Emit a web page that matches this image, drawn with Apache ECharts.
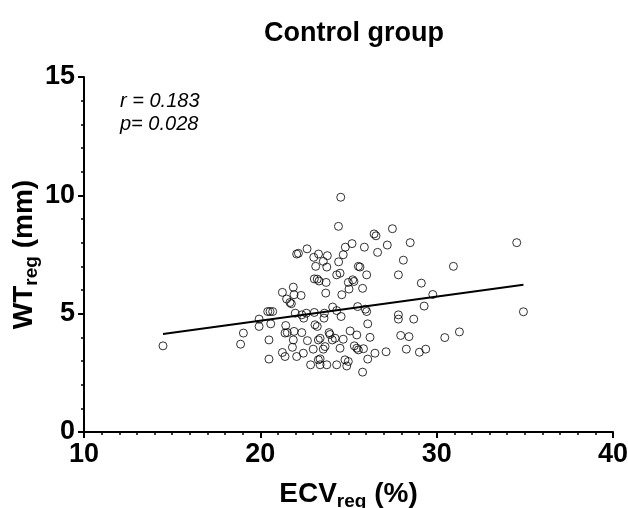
<!DOCTYPE html>
<html>
<head>
<meta charset="utf-8">
<style>html,body{margin:0;padding:0;background:#fff}#chart{width:628px;height:508px}</style>
<script src="https://cdn.jsdelivr.net/npm/echarts@6/dist/echarts.min.js"></script>
</head>
<body>
<div id="chart"></div>
<script>
// ECV_reg (%) values of each subject
const ecvValues = [
  24.56, 24.43, 26.45, 26.56, 27.49, 25.2, 24.82, 25.9, 27.2, 26.65,
  24.7, 22.65, 22.06, 22.16, 23.3, 23.8, 23.03, 23.57, 24.44, 23.14,
  23.77, 25.56, 25.65, 28.5, 28.11, 30.95, 34.54, 23.06, 23.23, 23.33,
  23.73, 24.33, 24.52, 25.24, 25.31, 24.99, 25.03, 24.62, 25.8, 26.03,
  23.71, 21.87, 21.25, 21.91, 22.31, 21.49, 21.68, 21.76, 20.42, 20.55,
  20.7, 19.93, 21.98, 22.35, 22.46, 22.61, 23.06, 23.63, 24.1, 24.33,
  24.58, 25.52, 25.96, 26.03, 19.04, 18.88, 19.93, 20.59, 21.44, 21.4,
  21.53, 21.91, 22.35, 21.87, 20.49, 23.1, 23.23, 23.61, 23.9, 23.95,
  22.67, 23.29, 23.39, 21.82, 23.0, 23.57, 23.67, 24.08, 24.24, 24.7,
  25.09, 25.47, 26.22, 26.09, 25.33, 25.47, 25.56, 25.85, 26.5, 27.13,
  26.09, 21.25, 21.4, 20.49, 22.06, 22.44, 23.29, 23.39, 22.85, 23.39,
  23.77, 24.33, 24.8, 24.99, 24.9, 25.8, 24.52, 27.83, 29.13, 29.78,
  29.29, 27.83, 27.83, 28.7, 27.96, 28.43, 30.46, 31.29, 34.92, 28.28,
  29.02, 29.38, 14.48
];
// WT_reg (mm) values of each subject
const wtValues = [
  9.92, 8.69, 8.37, 8.29, 8.59, 7.96, 7.81, 7.81, 7.9, 7.59,
  7.49, 7.74, 7.52, 7.55, 7.52, 7.45, 7.38, 7.21, 7.19, 7.0,
  6.97, 7.0, 6.97, 8.0, 7.26, 7.0, 8.0, 6.47, 6.46, 6.38,
  6.32, 6.64, 6.71, 6.43, 6.36, 6.32, 6.04, 5.8, 6.07, 6.64,
  5.87, 6.12, 5.9, 5.8, 5.77, 5.62, 5.47, 5.42, 5.09, 5.09,
  5.09, 4.77, 5.02, 4.95, 4.81, 5.02, 5.05, 5.02, 5.28, 5.13,
  4.88, 5.3, 5.19, 5.09, 4.18, 3.71, 4.46, 4.57, 4.5, 4.18,
  4.2, 4.25, 4.2, 3.89, 3.89, 4.53, 4.46, 4.81, 4.2, 4.12,
  3.86, 3.89, 3.96, 3.58, 3.5, 3.5, 3.61, 3.89, 3.96, 3.92,
  4.27, 4.1, 4.0, 4.57, 3.64, 3.54, 3.47, 3.52, 3.33, 3.39,
  3.08, 3.36, 3.19, 3.08, 3.19, 3.33, 3.05, 3.09, 2.84, 2.84,
  2.84, 2.84, 3.05, 2.98, 2.79, 2.53, 3.54, 6.64, 6.29, 5.81,
  5.32, 4.95, 4.77, 4.77, 4.08, 4.03, 3.99, 4.23, 5.08, 3.5,
  3.37, 3.5, 3.64
];
// regression line end points
const fitX = [14.48, 34.92];
const fitY = [4.14, 6.22];
// tick labels
const xTicks = [10, 20, 30, 40];
const yTicks = [0, 5, 10, 15];
const titleText = 'Control group';
const statText = ['r = 0.183', 'p= 0.028'];

const FONT = "'Liberation Sans', Arial, Helvetica, sans-serif";
const scatterData = ecvValues.map((x, i) => [x, wtValues[i]]);
const fitData = fitX.map((x, i) => [x, fitY[i]]);

const chart = echarts.init(document.getElementById('chart'), null, {renderer: 'canvas'});
const axisCommon = {
  axisLine: {show: true, onZero: false, lineStyle: {color: '#000', width: 2}},
  axisTick: {show: true, inside: false, length: 6, lineStyle: {color: '#000', width: 2}},
  minorTick: {show: true, length: 3, lineStyle: {color: '#000', width: 1.5}},
  splitLine: {show: false},
  minorSplitLine: {show: false},
  axisLabel: {color: '#000', fontSize: 27, fontWeight: 'bold', fontFamily: FONT}
};
const nameRich = {
  a: {fontSize: 28, fontWeight: 'bold', fontFamily: FONT, color: '#000', lineHeight: 30},
  s: {fontSize: 19, fontWeight: 'bold', fontFamily: FONT, color: '#000', lineHeight: 30, padding: [16, 0, 0, 0]}
};
chart.setOption({
  animation: false,
  backgroundColor: '#fff',
  title: {
    text: titleText, left: 349, top: 15, textAlign: 'center',
    textStyle: {fontSize: 27, fontWeight: 'bold', fontFamily: FONT, color: '#000'}
  },
  grid: {left: 84, right: 15, top: 77, bottom: 76, containLabel: false, outerBoundsMode: 'none'},
  xAxis: Object.assign({}, axisCommon, {
    type: 'value', min: xTicks[0], max: xTicks[xTicks.length - 1], interval: 10,
    minorTick: Object.assign({}, axisCommon.minorTick, {splitNumber: 10}),
    axisLabel: Object.assign({}, axisCommon.axisLabel, {margin: 9, showMinLabel: true, showMaxLabel: true}),
    name: '{a|ECV}{s|reg}{a| (%)}', nameLocation: 'middle', nameGap: 47, nameMoveOverlap: false,
    nameTextStyle: {rich: nameRich}
  }),
  yAxis: Object.assign({}, axisCommon, {
    type: 'value', min: yTicks[0], max: yTicks[yTicks.length - 1], interval: 5,
    minorTick: Object.assign({}, axisCommon.minorTick, {splitNumber: 5}),
    axisLabel: Object.assign({}, axisCommon.axisLabel, {margin: 9}),
    name: '{a|WT}{s|reg}{a| (mm)}', nameLocation: 'middle', nameGap: 45, nameRotate: 90, nameMoveOverlap: false,
    nameTextStyle: {rich: nameRich}
  }),
  graphic: [{
    type: 'text', left: 120, top: 90,
    style: {text: statText.join('\n'), font: 'italic 20px ' + FONT, fill: '#000', lineHeight: 23}
  }],
  series: [{
    type: 'scatter', data: scatterData, symbol: 'circle', symbolSize: 8,
    itemStyle: {color: 'rgba(255,255,255,0)', borderColor: '#000', borderWidth: 1},
    z: 3
  }, {
    type: 'line', data: fitData, symbol: 'none', lineStyle: {color: '#000', width: 2}, z: 4
  }]
});
</script>
</body>
</html>
